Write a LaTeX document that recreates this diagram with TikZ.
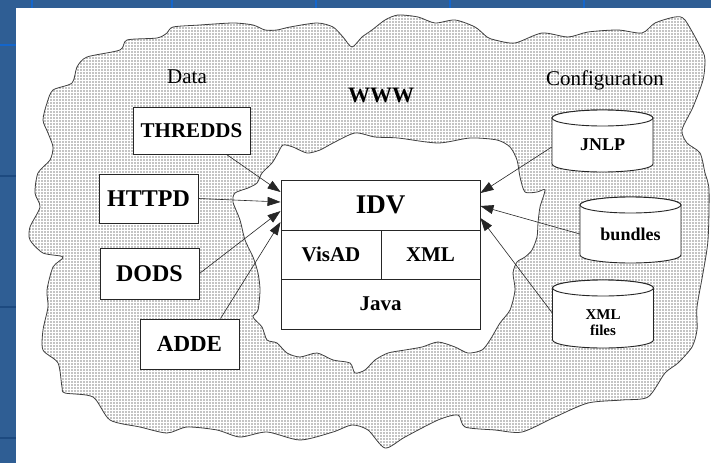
\documentclass[tikz,border=0pt]{standalone}
\usepackage{fontspec}
\setmainfont{Liberation Serif}
\usetikzlibrary{arrows.meta,patterns}
\pgfdeclarepatternformonly{mydots}{\pgfqpoint{-1pt}{-1pt}}{\pgfqpoint{1pt}{1pt}}{\pgfqpoint{3pt}{3pt}}%
  {\pgfpathcircle{\pgfqpoint{0pt}{0pt}}{0.68pt}\pgfusepath{fill}}
\pgfdeclarelayer{bg}\pgfdeclarelayer{mid}\pgfsetlayers{bg,mid,main}
\definecolor{bgblue}{HTML}{2F5E94}
\definecolor{gridA}{HTML}{1466CC}
\definecolor{gridB}{HTML}{1D4A80}
\newcommand\fs[1]{\fontsize{#1}{1.05\dimexpr#1\relax}\selectfont}
% #1 name, #2 cx, #3 top ellipse centre y, #4 bottom arc centre y, #5 text centre y, #6 font size, #7 text
\newcommand\mycyl[7]{%
  \begin{pgfonlayer}{mid}
    \filldraw[cylst] (#2-50.5,#3) -- (#2-50.5,#4) arc[start angle=180,end angle=0,x radius=50.5,y radius=8]
      -- (#2+50.5,#3) arc[start angle=0,end angle=-180,x radius=50.5,y radius=8] -- cycle;
    \draw[cylst] (#2,#3) ellipse[x radius=50.5,y radius=8];
  \end{pgfonlayer}
  \node[cyltext, minimum width=101pt, minimum height=30pt, font=\bfseries\fs{#6}] (#1) at (#2,#5) {#7};
}
\begin{document}
\begin{tikzpicture}[x=1pt,y=-1pt,
  box/.style={draw=black!85, fill=white, line width=0.9pt, inner sep=0pt},
  lbl/.style={inner sep=0pt, anchor=base},
  conn/.style={draw=black!85, line width=0.6pt, -{Triangle[length=13pt,width=9pt]}},
  cloud/.style={draw=black!75, line width=0.8pt},
  cylst/.style={draw=black!85, fill=white, line width=0.9pt},
  cyltext/.style={inner sep=0pt, align=center}]
\useasboundingbox (0,0) rectangle (711,463);

\begin{pgfonlayer}{bg}
  \fill[bgblue] (0,0) rectangle (711,463);
  \fill[white] (16,8) rectangle (711,463);
  \foreach \gx in {32,172,316,450,584} \fill[gridA] (\gx-1,0) rectangle (\gx+1,8);
  \fill[gridA] (0,44) rectangle (16,46);
  \foreach \gy in {176,307,438} \fill[gridB] (0,\gy-1) rectangle (16,\gy+1);
  % outer (dotted) cloud
  \draw[cloud, pattern=mydots, pattern color=black] plot[smooth cycle, tension=0.45] coordinates {
    (173,27) (200,25) (233,23) (253,25) (265,30) (277,30) (290,27) (317,23) (333,27) (343,37) (352,47)
    (362,37) (372,30) (385,20) (398,15) (418,17) (435,23) (455,20) (475,27) (487,37) (495,40) (515,43)
    (542,33) (568,37) (588,32) (618,30) (642,33) (655,23) (675,17) (685,20) (702,50) (705,60) (703,80)
    (693,107) (682,130) (687,143) (700,153) (705,173) (709,190) (708,240) (703,273) (697,307) (697,330)
    (692,347) (678,363) (665,373) (648,397) (622,400) (588,403) (555,417) (522,432) (495,430) (465,427)
    (458,415) (438,420) (405,437) (385,448) (368,430) (352,425) (333,432) (300,440) (267,432) (240,437)
    (217,430) (187,427) (167,433) (140,427) (110,420) (93,397) (65,393) (62,387) (58,363) (43,350)
    (43,330) (48,307) (47,290) (53,267) (63,257) (43,253) (30,240) (30,227) (40,207) (35,193) (38,173)
    (50,160) (53,147) (48,133) (43,120) (47,103) (53,90) (72,83) (77,67) (87,57) (120,50) (127,40)
    (157,38) (167,33)};
  % inner (white) cloud
  \draw[cloud, fill=white] plot[smooth cycle, tension=0.45] coordinates {
    (283,145) (293,147) (307,153) (320,150) (333,143) (355,133) (375,137) (398,138) (438,143) (470,138)
    (497,140) (510,147) (517,160) (520,177) (525,192) (537,192) (545,190) (540,207) (538,223) (537,237)
    (532,250) (525,257) (517,262) (513,273) (515,290) (510,310) (500,323) (490,340) (482,350) (468,353)
    (455,347) (438,342) (422,347) (405,350) (388,353) (375,360) (365,370) (355,373) (350,363) (333,360)
    (317,353) (300,357) (287,353) (277,343) (267,340) (262,327) (253,317) (258,310) (260,290) (258,273)
    (253,257) (245,240) (240,220) (233,202) (235,193) (248,188) (257,183) (262,173) (272,163) (278,153)};
\end{pgfonlayer}

% labels
\node[lbl, font=\fs{21pt}] (data) at (187,83) {Data};
\node[lbl, font=\bfseries\fs{22pt}] (www) at (381,102) {WWW};
\node[lbl, font=\fs{21pt}] (conf) at (605,85) {Configuration};

% data sources
\node[box, minimum width=117pt, minimum height=47pt, font=\bfseries\fs{21pt}] (thredds) at (191.5,130.5) {THREDDS};
\node[box, minimum width=99pt, minimum height=49pt, font=\bfseries\fs{24pt}] (httpd) at (148.5,198.5) {HTTPD};
\node[box, minimum width=99pt, minimum height=51pt, font=\bfseries\fs{24pt}] (dods) at (149.5,273.5) {DODS};
\node[box, minimum width=99pt, minimum height=50pt, font=\bfseries\fs{23pt}] (adde) at (189.5,344) {ADDE};

% IDV stack
\node[box, minimum width=199pt, minimum height=50pt, font=\bfseries\fs{27pt}] (idv) at (380.5,205) {IDV};
\node[box, minimum width=100pt, minimum height=49pt, font=\bfseries\fs{21pt}] (visad) at (331,254.5) {VisAD};
\node[box, minimum width=99pt, minimum height=49pt, font=\bfseries\fs{21pt}] (xml) at (430.5,254.5) {XML};
\node[box, minimum width=199pt, minimum height=50pt, font=\bfseries\fs{21pt}] (java) at (380.5,304) {Java};

% configuration cylinders
\mycyl{jnlp}{602.5}{118}{164}{145}{18pt}{JNLP}
\mycyl{bundles}{630.5}{205}{255}{234}{18pt}{bundles}
\mycyl{xmlf}{603}{288}{340}{323}{15pt}{XML\\files}

% connectors
\draw[conn] ([xshift=35pt]thredds.south) -- ([yshift=13pt]idv.west);
\draw[conn] (httpd.east) -- ([yshift=3pt]idv.west);
\draw[conn] (dods.east) -- ([yshift=-6pt]idv.west);
\draw[conn] ([xshift=31pt]adde.north) -- ([yshift=-17pt]idv.west);
\draw[conn] ([yshift=-2pt]jnlp.west) -- ([yshift=12pt]idv.east);
\draw[conn] (bundles.west) -- ([yshift=-1pt]idv.east);
\draw[conn] ([yshift=10pt]xmlf.west) -- ([yshift=-13pt]idv.east);
\end{tikzpicture}
\end{document}
